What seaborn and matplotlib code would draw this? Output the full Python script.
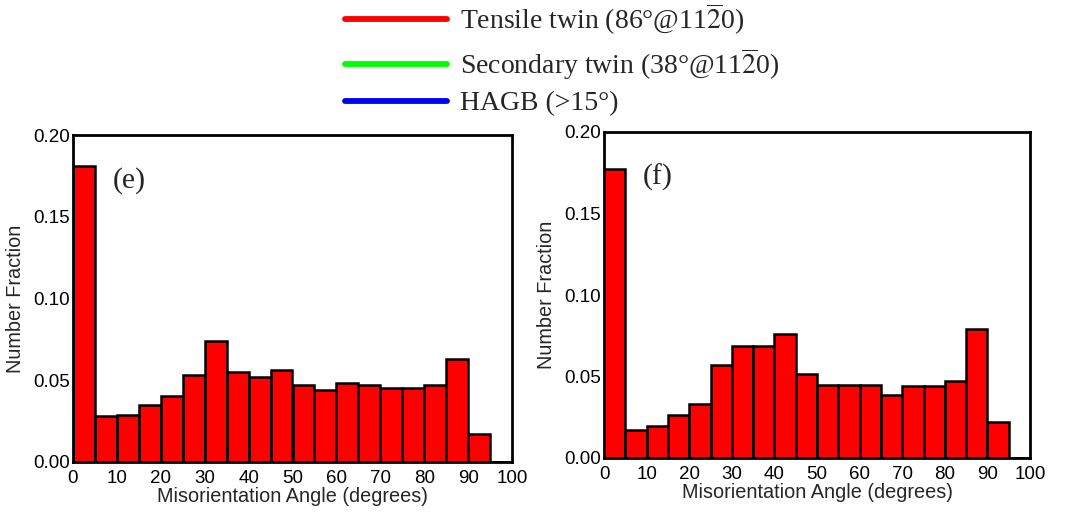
import numpy as np
import matplotlib
matplotlib.use("Agg")
import matplotlib.pyplot as plt
import seaborn as sns
from matplotlib.lines import Line2D

# ---- data ----
bin_edges = list(range(0, 101, 5))
bin_centers = [2.5, 7.5, 12.5, 17.5, 22.5, 27.5, 32.5, 37.5, 42.5, 47.5,
               52.5, 57.5, 62.5, 67.5, 72.5, 77.5, 82.5, 87.5, 92.5, 97.5]
frac_e = [0.181, 0.028, 0.0285, 0.035, 0.0405, 0.053, 0.074, 0.055, 0.052, 0.0563,
          0.0473, 0.0441, 0.0486, 0.0473, 0.0453, 0.0453, 0.0473, 0.0627, 0.0169, 0.0]
frac_f = [0.177, 0.0173, 0.0198, 0.0265, 0.0331, 0.0571, 0.069, 0.069, 0.0759, 0.0514,
          0.0449, 0.0449, 0.0449, 0.0384, 0.0441, 0.0441, 0.0473, 0.079, 0.022, 0.0]
panel_labels = ["(e)", "(f)"]
legend_labels = [r"Tensile twin (86°@11$\overline{2}$0)",
                 r"Secondary twin (38°@11$\overline{2}$0)",
                 "HAGB (>15°)"]
legend_colors = ["#ff0000", "#00ff00", "#0000ff"]
x_ticks = list(range(0, 101, 10))
y_ticks = [0.0, 0.05, 0.10, 0.15, 0.20]

sns.set_style("white")
plt.rcParams["font.family"] = ["Liberation Sans", "DejaVu Sans"]
plt.rcParams["mathtext.fontset"] = "stix"

W, H = 1070, 515
fig = plt.figure(figsize=(W / 100, H / 100), dpi=100)

boxes = [(73, 135, 512, 462), (604, 132, 1030, 458)]
for (x0, y0, x1, y1), vals, lab in zip(boxes, [frac_e, frac_f], panel_labels):
    ax = fig.add_axes([x0 / W, (H - y1) / H, (x1 - x0) / W, (y1 - y0) / H])
    sns.histplot(x=bin_centers, weights=vals, bins=bin_edges, ax=ax,
                 color="#ff0000", alpha=1, edgecolor="black", linewidth=1.8)
    ax.set_xlim(0, 100)
    ax.set_ylim(0, 0.2)
    ax.set_xticks(x_ticks)
    ax.set_yticks(y_ticks)
    ax.set_yticklabels([f"{v:.2f}" for v in y_ticks])
    ax.tick_params(labelsize=13.5, length=0, colors="black")
    ax.tick_params(axis="x", pad=6)
    ax.tick_params(axis="y", pad=2)
    ax.set_xlabel("Misorientation Angle (degrees)", fontsize=14.3, labelpad=0)
    ax.set_ylabel("Number Fraction", fontsize=14.3, labelpad=6)
    for s in ax.spines.values():
        s.set_visible(True)
        s.set_color("black")
        s.set_linewidth(2)
    ax.text(0.09, 0.86, lab, transform=ax.transAxes, fontsize=21.5,
            family="Liberation Serif", ha="left", va="center")

handles = [Line2D([], [], color=c, lw=4.2) for c in legend_colors]
leg = fig.legend(handles, legend_labels, loc="upper left",
                 bbox_to_anchor=(0.322, 0.998), frameon=False,
                 handlelength=3.7, handletextpad=0.45, labelspacing=0.33,
                 borderpad=0, borderaxespad=0,
                 prop={"family": "Liberation Serif", "size": 20})

fig.savefig("out.png", dpi=100)
